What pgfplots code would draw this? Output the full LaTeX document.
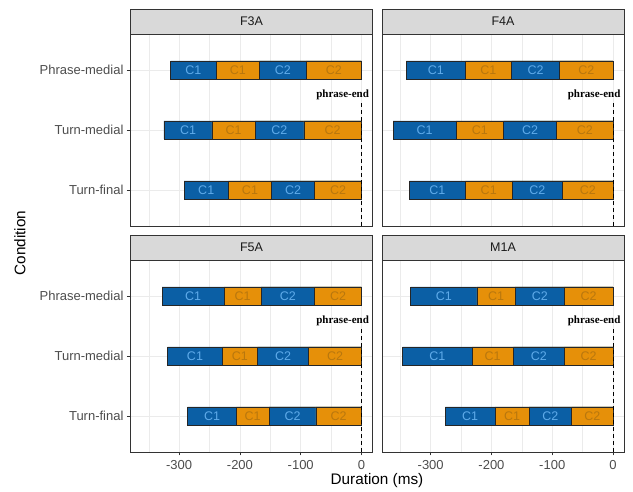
\documentclass[border=0pt]{standalone}
\usepackage{pgfplots}
\pgfplotsset{compat=1.18}
\usepackage{pgfplotstable}
\usepackage{fontspec}
\setmainfont{Liberation Sans}
\newfontfamily\serifb{Liberation Serif}

\definecolor{grey92}{HTML}{EBEBEB}
\definecolor{grey85}{HTML}{D9D9D9}
\definecolor{grey20}{HTML}{333333}
\definecolor{grey30}{HTML}{4D4D4D}
\definecolor{grey10}{HTML}{1A1A1A}
\definecolor{barblue}{HTML}{0B5FA5}
\definecolor{barorange}{HTML}{E69009}
\definecolor{txtblue}{HTML}{5FABEA}
\definecolor{txtorange}{HTML}{B8770E}

% y: 1 = Turn-final, 2 = Turn-medial, 3 = Phrase-medial
% b1..b4: segment left boundaries (ms), m1..m4: segment centres
\pgfplotstableread{
y b1 b2 b3 b4 m1 m2 m3 m4
3 -314 -239 -168 -91 -276.5 -203.5 -129.5 -45.5
2 -325 -246 -175 -95 -285.5 -210.5 -135 -47.5
1 -292 -219 -148 -77 -255.5 -183.5 -112.5 -38.5
}\dataFthree
\pgfplotstableread{
y b1 b2 b3 b4 m1 m2 m3 m4
3 -340 -243 -167 -88 -291.5 -205 -127.5 -44
2 -362 -258 -180 -93 -310 -219 -136.5 -46.5
1 -335 -243 -166 -83 -289 -204.5 -124.5 -41.5
}\dataFfour
\pgfplotstableread{
y b1 b2 b3 b4 m1 m2 m3 m4
3 -328 -226 -165 -77 -277 -195.5 -121 -38.5
2 -319 -229 -171 -87 -274 -200 -129 -43.5
1 -286 -206 -152 -75 -246 -179 -113.5 -37.5
}\dataFfive
\pgfplotstableread{
y b1 b2 b3 b4 m1 m2 m3 m4
3 -333 -224 -161 -80 -278.5 -192.5 -120.5 -40
2 -346 -232 -164 -80 -289 -198 -122 -40
1 -276 -194 -138 -68 -235 -166 -103 -34
}\dataMone

\pgfplotsset{
  panel/.style={
    scale only axis, width=242pt, height=192pt,
    xmin=-380.1, xmax=18.1, ymin=0.4, ymax=3.6,
    xtick={-300,-200,-100,0}, xticklabels={-300,-200,-100,0},
    minor xtick={-350,-250,-150,-50},
    ytick={1,2,3}, yticklabels={Turn-final,Turn-medial,Phrase-medial},
    xtick pos=bottom, ytick pos=left,
    xmajorgrids, xminorgrids, ymajorgrids,
    major grid style={color=grey92, line width=0.9pt},
    minor grid style={color=grey92, line width=0.45pt},
    axis line style={grey20, line width=0.6pt},
    major tick style={grey20, line width=0.6pt},
    minor tick length=0pt,
    tick align=outside, major tick length=3.5pt,
    tick label style={font=\fontsize{13}{15}\selectfont, text=grey30},
    xticklabel style={yshift=-1.5pt},
    clip=false,
  },
  seg/.style={xbar, bar width=0.3, bar shift=0pt, draw=black!85, line width=0.5pt, fill=#1},
  lab/.style={draw=none, nodes near coords={#1},
    every node near coord/.append style={anchor=center, font=\fontsize{12.5}{14}\selectfont}},
}

\newcommand{\bars}[1]{%
  \addplot[seg=barblue] table[x=b1,y=y]{#1};
  \addplot[seg=barorange] table[x=b2,y=y]{#1};
  \addplot[seg=barblue] table[x=b3,y=y]{#1};
  \addplot[seg=barorange] table[x=b4,y=y]{#1};
  \addplot[lab=C1, every node near coord/.append style={text=txtblue}] table[x=m1,y=y]{#1};
  \addplot[lab=C1, every node near coord/.append style={text=txtorange}] table[x=m2,y=y]{#1};
  \addplot[lab=C2, every node near coord/.append style={text=txtblue}] table[x=m3,y=y]{#1};
  \addplot[lab=C2, every node near coord/.append style={text=txtorange}] table[x=m4,y=y]{#1};
  \addplot[black, line width=0.6pt, dash pattern=on 4pt off 3pt] coordinates {(0,0.4) (0,2.5)};
  \node[font=\serifb\bfseries\fontsize{11}{12}\selectfont, text=black] at (axis cs:-31,2.58) {phrase-end};
}

\tikzset{strip/.style={draw=grey20, line width=0.6pt, fill=grey85, minimum width=242pt,
  minimum height=25pt, anchor=south west, inner sep=0pt, outer sep=0pt,
  font=\fontsize{12.5}{14}\selectfont, text=grey10}}

\begin{document}
\begin{tikzpicture}
\useasboundingbox (0,0) rectangle (633pt,492pt);

\begin{axis}[panel, name=tl, at={(130.5pt,266pt)}, anchor=south west, xticklabels={}, xmajorticks=false]
\bars{\dataFthree}
\end{axis}
\begin{axis}[panel, name=tr, at={(382pt,266pt)}, anchor=south west, xticklabels={}, yticklabels={}, xmajorticks=false, ymajorticks=false]
\bars{\dataFfour}
\end{axis}
\begin{axis}[panel, name=bl, at={(130.5pt,40pt)}, anchor=south west]
\bars{\dataFfive}
\end{axis}
\begin{axis}[panel, name=br, at={(382pt,40pt)}, anchor=south west, yticklabels={}, ymajorticks=false]
\bars{\dataMone}
\end{axis}

\node[strip] at (tl.north west) {F3A};
\node[strip] at (tr.north west) {F4A};
\node[strip] at (bl.north west) {F5A};
\node[strip] at (br.north west) {M1A};

\node[rotate=90, font=\fontsize{15.3}{17}\selectfont, text=black] at (20pt,249pt) {Condition};
\node[font=\fontsize{15.3}{17}\selectfont, text=black] at (377pt,11pt) {Duration (ms)};
\end{tikzpicture}
\end{document}
